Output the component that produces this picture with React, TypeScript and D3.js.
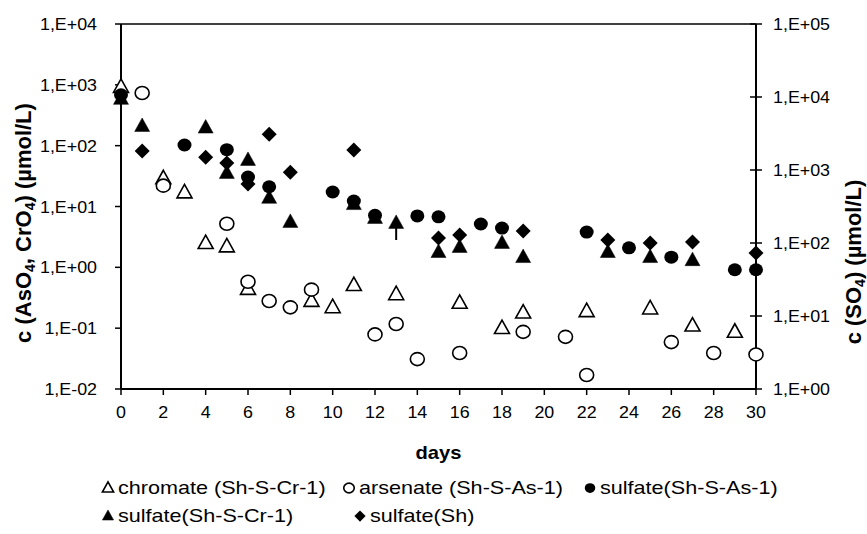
import * as d3 from 'd3';
import React, { useEffect, useRef } from 'react';

// chart size and plot box
const W = 867;
const H = 534;
const plot = { left: 121, right: 756, top: 24, bottom: 389 };
const SX_TICK = 1.05; // the text in the picture is a bit wide
const SX_LEG = 1.2;

const dayTicks = [0, 2, 4, 6, 8, 10, 12, 14, 16, 18, 20, 22, 24, 26, 28, 30];
const leftTicks = [1e-2, 1e-1, 1, 1e1, 1e2, 1e3, 1e4];
const rightTicks = [1, 1e1, 1e2, 1e3, 1e4, 1e5];

// chromate (Sh-S-Cr-1), left axis
const chromateDays = [0, 2, 3, 4, 5, 6, 9, 10, 11, 13, 16, 18, 19, 22, 25, 27, 29];
const chromate = [920, 29, 17, 2.5, 2.2, 0.44, 0.28, 0.22, 0.51, 0.36, 0.26, 0.1, 0.18, 0.19, 0.21, 0.11, 0.087];

// arsenate (Sh-S-As-1), left axis
const arsenateDays = [1, 2, 5, 6, 7, 8, 9, 12, 13, 14, 16, 19, 21, 22, 26, 28, 30];
const arsenate = [735, 22, 5.2, 0.58, 0.28, 0.22, 0.43, 0.079, 0.117, 0.031, 0.039, 0.087, 0.072, 0.017, 0.059, 0.039, 0.037];

// sulfate(Sh-S-As-1), right axis
const sulfAsDays = [0, 3, 5, 6, 7, 10, 11, 12, 14, 15, 17, 18, 22, 24, 26, 29, 30];
const sulfAs = [10700, 2200, 1900, 800, 590, 500, 375, 240, 235, 228, 182, 160, 141, 86, 64, 43, 43];

// sulfate(Sh-S-Cr-1), right axis
const sulfCrDays = [0, 1, 4, 5, 6, 7, 8, 11, 12, 13, 15, 16, 18, 19, 23, 25, 27];
const sulfCr = [9400, 4000, 3800, 910, 1370, 415, 194, 340, 220, 188, 75, 88, 100, 64, 75, 64, 58];
// one error bar (day 13)
const sulfCrErrDay = 13;
const sulfCrErrLow = 110;

// sulfate(Sh), right axis
const sulfShDays = [1, 4, 5, 6, 7, 8, 11, 15, 16, 19, 23, 25, 27, 30];
const sulfSh = [1820, 1500, 1250, 645, 3100, 935, 1880, 117, 129, 146, 110, 100, 103, 73];

const expLabel = (v: number) => {
  const e = Math.round(Math.log10(v));
  return `1,E${e < 0 ? '-' : '+'}${String(Math.abs(e)).padStart(2, '0')}`;
};

const triPath = (w: number, h: number) => `M0,${-h * 0.6}L${w / 2},${h * 0.4}L${-w / 2},${h * 0.4}Z`;
const diaPath = (w: number, h: number) => `M0,${-h / 2}L${w / 2},0L0,${h / 2}L${-w / 2},0Z`;

type Marker = 'otri' | 'ocirc' | 'fcirc' | 'ftri' | 'dia';

function drawMarker(g: any, kind: Marker, s: number) {
  if (kind === 'ocirc' || kind === 'fcirc') {
    g.append('ellipse')
      .attr('rx', 7 * s).attr('ry', 6.5 * s)
      .attr('fill', kind === 'fcirc' ? '#000' : '#fff')
      .attr('stroke', '#000').attr('stroke-width', kind === 'fcirc' ? 0 : 1.6);
  } else if (kind === 'otri' || kind === 'ftri') {
    g.append('path')
      .attr('d', triPath(15 * s, 13.5 * s))
      .attr('fill', kind === 'ftri' ? '#000' : '#fff')
      .attr('stroke', '#000').attr('stroke-width', kind === 'ftri' ? 0.5 : 1.6)
      .attr('stroke-linejoin', 'miter');
  } else {
    g.append('path').attr('d', diaPath(15 * s, 15 * s)).attr('fill', '#000');
  }
}

function wideText(g: any, x: number, y: number, str: string, anchor: string, size: number, sx: number, bold = false) {
  return g.append('text')
    .attr('transform', `translate(${x},${y}) scale(${sx},1)`)
    .attr('text-anchor', anchor)
    .style('font-size', `${size}px`)
    .style('font-weight', bold ? 'bold' : 'normal')
    .text(str);
}

export default function App() {
  const ref = useRef<SVGSVGElement>(null);

  useEffect(() => {
    document.body.style.margin = '0';
    const svg = d3.select(ref.current);
    svg.selectAll('*').remove();
    svg.style('font-family', '"Liberation Sans", Arial, sans-serif');

    const x = d3.scaleLinear().domain([0, 30]).range([plot.left, plot.right]);
    const yL = d3.scaleLog().domain([1e-2, 1e4]).range([plot.bottom, plot.top]);
    const yR = d3.scaleLog().domain([1, 1e5]).range([plot.bottom, plot.top]);

    svg.append('rect').attr('width', W).attr('height', H).attr('fill', '#fff');

    // frame
    const frame = svg.append('g').attr('stroke', '#000').attr('stroke-width', 2);
    frame.append('line').attr('x1', plot.left).attr('x2', plot.right).attr('y1', plot.top).attr('y2', plot.top).attr('stroke-width', 1.5);
    frame.append('line').attr('x1', plot.left).attr('x2', plot.right).attr('y1', plot.bottom).attr('y2', plot.bottom);
    frame.append('line').attr('x1', plot.left).attr('x2', plot.left).attr('y1', plot.top).attr('y2', plot.bottom);
    frame.append('line').attr('x1', plot.right).attr('x2', plot.right).attr('y1', plot.top).attr('y2', plot.bottom);

    // x ticks and labels
    const ax = svg.append('g');
    dayTicks.forEach(d => {
      ax.append('line').attr('x1', x(d)).attr('x2', x(d)).attr('y1', plot.bottom).attr('y2', plot.bottom + 6)
        .attr('stroke', '#000').attr('stroke-width', 1.5);
      wideText(ax, x(d), 418, String(d), 'middle', 17, SX_TICK);
    });
    wideText(ax, (plot.left + plot.right) / 2, 459, 'days', 'middle', 18, 1.12, true);

    // left axis
    const al = svg.append('g');
    leftTicks.forEach(v => {
      al.append('line').attr('x1', plot.left - 6).attr('x2', plot.left).attr('y1', yL(v)).attr('y2', yL(v))
        .attr('stroke', '#000').attr('stroke-width', 1.5);
      wideText(al, plot.left - 24, yL(v) + 6, expLabel(v), 'end', 17, SX_TICK);
    });
    const tl = al.append('text')
      .attr('transform', `translate(31,223) rotate(-90)`)
      .attr('text-anchor', 'middle')
      .style('font-size', '22px').style('font-weight', 'bold');
    tl.append('tspan').text('c (AsO');
    tl.append('tspan').attr('dy', 4).style('font-size', '14px').text('4');
    tl.append('tspan').attr('dy', -4).text(', CrO');
    tl.append('tspan').attr('dy', 4).style('font-size', '14px').text('4');
    tl.append('tspan').attr('dy', -4).text(') (µmol/L)');

    // right axis
    const ar = svg.append('g');
    rightTicks.forEach(v => {
      ar.append('line').attr('x1', plot.right - 6).attr('x2', plot.right + 6).attr('y1', yR(v)).attr('y2', yR(v))
        .attr('stroke', '#000').attr('stroke-width', 1.5);
      wideText(ar, plot.right + 17, yR(v) + 6, expLabel(v), 'start', 17, SX_TICK);
    });
    const tr = ar.append('text')
      .attr('transform', `translate(861,262) rotate(-90)`)
      .attr('text-anchor', 'middle')
      .style('font-size', '22px').style('font-weight', 'bold');
    tr.append('tspan').text('c (SO');
    tr.append('tspan').attr('dy', 4).style('font-size', '14px').text('4');
    tr.append('tspan').attr('dy', -4).text(') (µmol/L)');

    // series
    const series: { days: number[]; vals: number[]; y: any; kind: Marker }[] = [
      { days: chromateDays, vals: chromate, y: yL, kind: 'otri' },
      { days: arsenateDays, vals: arsenate, y: yL, kind: 'ocirc' },
      { days: sulfAsDays, vals: sulfAs, y: yR, kind: 'fcirc' },
      { days: sulfCrDays, vals: sulfCr, y: yR, kind: 'ftri' },
      { days: sulfShDays, vals: sulfSh, y: yR, kind: 'dia' },
    ];

    const marks = svg.append('g');
    // error bar on sulfate(Sh-S-Cr-1)
    const ei = sulfCrDays.indexOf(sulfCrErrDay);
    marks.append('line')
      .attr('x1', x(sulfCrErrDay)).attr('x2', x(sulfCrErrDay))
      .attr('y1', yR(sulfCr[ei])).attr('y2', yR(sulfCrErrLow))
      .attr('stroke', '#000').attr('stroke-width', 2);
    series.forEach(s => {
      s.days.forEach((d, i) => {
        const g = marks.append('g').attr('transform', `translate(${x(d)},${s.y(s.vals[i])})`);
        drawMarker(g, s.kind, 1);
      });
    });

    // legend
    const legend = svg.append('g');
    const rows: { kind: Marker; label: string; x: number; y: number }[] = [
      { kind: 'otri', label: 'chromate (Sh-S-Cr-1)', x: 108, y: 488 },
      { kind: 'ocirc', label: 'arsenate (Sh-S-As-1)', x: 349, y: 488 },
      { kind: 'fcirc', label: 'sulfate(Sh-S-As-1)', x: 590, y: 488 },
      { kind: 'ftri', label: 'sulfate(Sh-S-Cr-1)', x: 108, y: 516 },
      { kind: 'dia', label: 'sulfate(Sh)', x: 360, y: 516 },
    ];
    rows.forEach(r => {
      const g = legend.append('g').attr('transform', `translate(${r.x},${r.y})`);
      drawMarker(g, r.kind, 0.75);
      wideText(legend, r.x + 10, r.y + 6, r.label, 'start', 18, SX_LEG);
    });
  }, []);

  return <svg ref={ref} width={W} height={H} style={{ display: 'block' }} />;
}
